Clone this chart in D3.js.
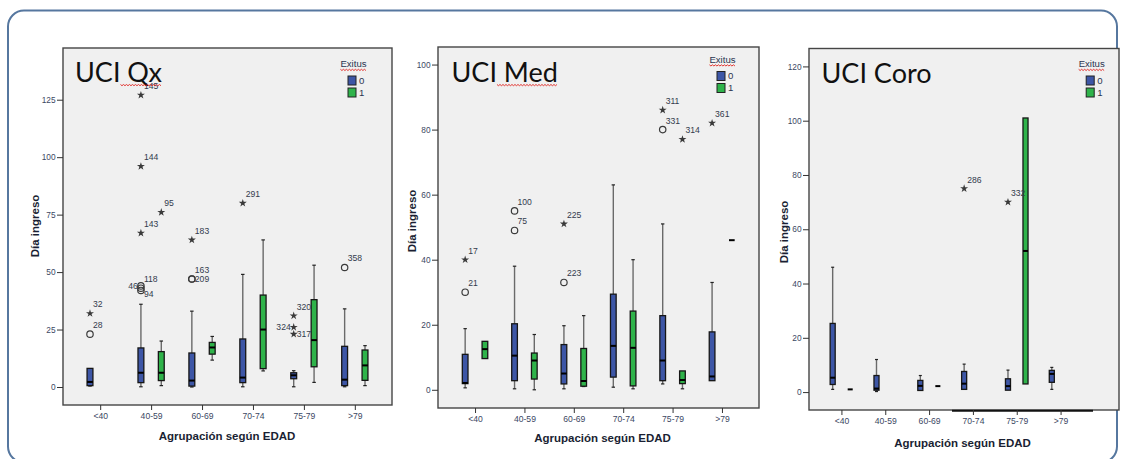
<!DOCTYPE html>
<html>
<head>
<meta charset="utf-8">
<script src="https://cdn.jsdelivr.net/npm/d3@7"></script>
<style>
  html, body { margin: 0; padding: 0; background: #ffffff; }
  svg { display: block; }
</style>
</head>
<body>
<script>
// Age groups on the x axis and the two Exitus groups
const categories = ["<40", "40-59", "60-69", "70-74", "75-79", ">79"];
const exitusGroups = ["0", "1"];

// Box summaries per age group: [whisker low, Q1, median, Q3, whisker high]; null = no cases
const qxExitus0 = [[0.4, 0.6, 2.2, 8.1, 8.1], [0.1, 1.9, 6.2, 17, 36], [0, 0.4, 2.8, 14.8, 33], [0.1, 1.9, 4.1, 20.9, 49], [0.1, 3.6, 5.1, 6.2, 7.1], [0.1, 0.6, 3.2, 17.7, 34]];
const qxExitus1 = [null, [0.6, 2.8, 6.2, 15.4, 20], [11.7, 14.3, 17.2, 19.4, 22], [7, 8, 25, 40, 64], [2, 8.8, 20.4, 38, 53], [0.6, 2.9, 9.4, 16.1, 18]];
const qxOutliers = [
  { cat: "<40", group: "0", value: 23, id: "28", mark: "circle" },
  { cat: "<40", group: "0", value: 32, id: "32", mark: "star" },
  { cat: "40-59", group: "0", value: 44, id: "46", mark: "circle", side: "left" },
  { cat: "40-59", group: "0", value: 43, id: "118", mark: "circle" },
  { cat: "40-59", group: "0", value: 42, id: "94", mark: "circle", side: "below" },
  { cat: "40-59", group: "0", value: 67, id: "143", mark: "star" },
  { cat: "40-59", group: "0", value: 96, id: "144", mark: "star" },
  { cat: "40-59", group: "0", value: 127, id: "145", mark: "star" },
  { cat: "40-59", group: "1", value: 76, id: "95", mark: "star" },
  { cat: "60-69", group: "0", value: 47, id: "163", mark: "circle" },
  { cat: "60-69", group: "0", value: 47, id: "209", mark: "circle", side: "right" },
  { cat: "60-69", group: "0", value: 64, id: "183", mark: "star" },
  { cat: "70-74", group: "0", value: 80, id: "291", mark: "star" },
  { cat: "75-79", group: "0", value: 31, id: "320", mark: "star" },
  { cat: "75-79", group: "0", value: 26, id: "324", mark: "star", side: "left" },
  { cat: "75-79", group: "0", value: 23, id: "317", mark: "star", side: "right" },
  { cat: ">79", group: "0", value: 52, id: "358", mark: "circle" }
];

const medExitus0 = [[0.6, 1.9, 2.1, 10.9, 18.8], [0.3, 2.8, 10.5, 20.3, 38], [0.3, 1.8, 5, 13.9, 19.7], [0.8, 3.9, 13.5, 29.4, 63], [1.8, 2.8, 9, 22.8, 51], [2.8, 2.8, 4.1, 17.8, 33]];
const medExitus1 = [[9.6, 9.6, 12.5, 14.9, 14.9], [0, 3.3, 9, 11.3, 17], [1, 1.1, 2.7, 12.7, 22.8], [0.3, 1.2, 12.9, 24.2, 40], [0.3, 1.9, 3, 5.8, 5.8], [46, 46, 46, 46, 46]];
const medOutliers = [
  { cat: "<40", group: "0", value: 30, id: "21", mark: "circle" },
  { cat: "<40", group: "0", value: 40, id: "17", mark: "star" },
  { cat: "40-59", group: "0", value: 49, id: "75", mark: "circle" },
  { cat: "40-59", group: "0", value: 55, id: "100", mark: "circle" },
  { cat: "60-69", group: "0", value: 33, id: "223", mark: "circle" },
  { cat: "60-69", group: "0", value: 51, id: "225", mark: "star" },
  { cat: "75-79", group: "0", value: 80, id: "331", mark: "circle" },
  { cat: "75-79", group: "0", value: 86, id: "311", mark: "star" },
  { cat: "75-79", group: "1", value: 77, id: "314", mark: "star" },
  { cat: ">79", group: "0", value: 82, id: "361", mark: "star" }
];

const coroExitus0 = [[1, 2.8, 5.3, 25.3, 46], [0.2, 0.7, 1.3, 6.1, 12], [0.6, 0.6, 2.3, 4.3, 6.1], [1, 1, 3.1, 7.6, 10.3], [0.7, 0.7, 2.2, 4.9, 8.1], [1, 3.6, 6.7, 8, 9.1]];
const coroExitus1 = [[1, 1, 1, 1, 1], null, [2.2, 2.2, 2.2, 2.2, 2.2], null, [3, 3, 52, 101, 101], null];
const coroOutliers = [
  { cat: "70-74", group: "0", value: 75, id: "286", mark: "star" },
  { cat: "75-79", group: "0", value: 70, id: "332", mark: "star" }
];

// y-axis tick values for each unit
const qxTicks = [0, 25, 50, 75, 100, 125];
const medTicks = [0, 20, 40, 60, 80, 100];
const coroTicks = [0, 20, 40, 60, 80, 100, 120];

const groupColor = { "0": "#3d56a6", "1": "#2fb34a" };
const sansFont = "'Liberation Sans', Arial, sans-serif";
const titleFont = "Lato, 'Open Sans', sans-serif";

const svg = d3.select("body").append("svg")
  .attr("width", 1122).attr("height", 459);

// slide frame
svg.append("rect")
  .attr("x", 8).attr("y", 10.5).attr("width", 1109).attr("height", 452)
  .attr("rx", 16).attr("ry", 16)
  .attr("fill", "#ffffff").attr("stroke", "#56779f").attr("stroke-width", 2);

// red wavy spell-check underline
function squiggle(g, x0, x1, yy) {
  const pts = [];
  for (let xx = x0, k = 0; xx <= x1; xx += 1.5, k++) pts.push([xx, yy + (k % 2 ? 1 : -0.2)]);
  g.append("path").attr("d", d3.line()(pts))
    .attr("fill", "none").attr("stroke", "#e0201c").attr("stroke-width", 0.9);
}

function drawPanel(cfg) {
  const g = svg.append("g");
  const [fx0, fy0, fx1, fy1] = cfg.frame;

  const x = d3.scalePoint().domain(categories).range(cfg.catRange).padding(cfg.pad);
  const step = x.step();
  const sub = d3.scalePoint().domain(exitusGroups).range([-step * 0.2, step * 0.2]);
  const bw = step * 0.115;
  const y = d3.scaleLinear().domain(cfg.yDomain).range([fy1, fy0]);

  // plot area
  g.append("rect")
    .attr("x", fx0).attr("y", fy0).attr("width", fx1 - fx0).attr("height", fy1 - fy0)
    .attr("fill", "#f0f0f0").attr("stroke", "#454545").attr("stroke-width", 1.4);
  if (cfg.bottomRule) {
    g.append("line")
      .attr("x1", cfg.bottomRule[0]).attr("x2", cfg.bottomRule[1])
      .attr("y1", fy1 + 0.8).attr("y2", fy1 + 0.8)
      .attr("stroke", "#111").attr("stroke-width", 2);
  }

  // y axis
  const yAxis = g.append("g").attr("transform", `translate(${fx0},0)`)
    .call(d3.axisLeft(y).tickValues(cfg.ticks).tickSize(6).tickPadding(1.5));
  yAxis.select(".domain").remove();
  yAxis.selectAll("line").attr("stroke", "#333");
  yAxis.selectAll("text").attr("font-family", sansFont).attr("font-size", 8.3).attr("fill", "#3b4763");

  // x axis
  const xAxis = g.append("g").attr("transform", `translate(0,${fy1})`)
    .call(d3.axisBottom(x).tickSize(5).tickPadding(2.5));
  xAxis.select(".domain").remove();
  xAxis.selectAll("line").attr("stroke", "#333");
  xAxis.selectAll("text").attr("font-family", sansFont).attr("font-size", 8.6).attr("fill", "#3b4763");

  // axis titles
  g.append("text")
    .attr("transform", `translate(${cfg.yTitle[0]},${cfg.yTitle[1]}) rotate(-90)`)
    .attr("text-anchor", "middle").attr("dy", "0.35em")
    .attr("font-family", sansFont).attr("font-weight", "bold").attr("font-size", 11.5)
    .attr("fill", "#1a1f33").text("Día ingreso");
  g.append("text")
    .attr("x", cfg.xTitle[0]).attr("y", cfg.xTitle[1])
    .attr("text-anchor", "middle")
    .attr("font-family", sansFont).attr("font-weight", "bold").attr("font-size", 11.5)
    .attr("fill", "#1a1f33").text("Agrupación según EDAD");

  // boxes
  const boxes = [];
  cfg.series.forEach((arr, gi) => {
    arr.forEach((s, ci) => {
      if (s) boxes.push({ cat: categories[ci], group: exitusGroups[gi], s });
    });
  });
  const bg = g.append("g");
  boxes.forEach(b => {
    const cx = x(b.cat) + sub(b.group);
    const [lo, q1, med, q3, hi] = b.s;
    // whiskers
    if (hi > q3) {
      bg.append("line").attr("x1", cx).attr("x2", cx).attr("y1", y(q3)).attr("y2", y(hi))
        .attr("stroke", "#6a6a6a").attr("stroke-width", 1.4);
      bg.append("line").attr("x1", cx - bw * 0.3).attr("x2", cx + bw * 0.3).attr("y1", y(hi)).attr("y2", y(hi))
        .attr("stroke", "#222").attr("stroke-width", 1.2);
    }
    if (lo < q1) {
      bg.append("line").attr("x1", cx).attr("x2", cx).attr("y1", y(lo)).attr("y2", y(q1))
        .attr("stroke", "#6a6a6a").attr("stroke-width", 1.4);
      bg.append("line").attr("x1", cx - bw * 0.3).attr("x2", cx + bw * 0.3).attr("y1", y(lo)).attr("y2", y(lo))
        .attr("stroke", "#222").attr("stroke-width", 1.2);
    }
    bg.append("rect")
      .attr("x", cx - bw / 2).attr("y", y(q3)).attr("width", bw).attr("height", Math.max(0, y(q1) - y(q3)))
      .attr("fill", groupColor[b.group]).attr("stroke", "#161616").attr("stroke-width", 1.3);
    bg.append("line").attr("x1", cx - bw / 2).attr("x2", cx + bw / 2).attr("y1", y(med)).attr("y2", y(med))
      .attr("stroke", "#000").attr("stroke-width", 2);
  });

  // outliers and their case labels
  const og = g.append("g");
  cfg.outliers.forEach(o => {
    const cx = x(o.cat) + sub(o.group);
    const cy = y(o.value);
    if (o.mark === "circle") {
      og.append("circle").attr("cx", cx).attr("cy", cy).attr("r", 3.2)
        .attr("fill", "none").attr("stroke", "#3a3a3a").attr("stroke-width", 1.2);
    } else {
      og.append("path").attr("transform", `translate(${cx},${cy})`)
        .attr("d", d3.symbol().type(d3.symbolStar).size(20)())
        .attr("fill", "#3a3a3a");
    }
    let tx = cx + 3, ty = cy - 6, anchor = "start";
    if (o.side === "left") { tx = cx - 3; ty = cy + 3; anchor = "end"; }
    else if (o.side === "right") { tx = cx + 3; ty = cy + 3; }
    else if (o.side === "below") { tx = cx + 3; ty = cy + 7; }
    og.append("text").attr("x", tx).attr("y", ty).attr("text-anchor", anchor)
      .attr("font-family", sansFont).attr("font-size", 8.6).attr("fill", "#333b4d")
      .text(o.id);
  });

  // panel title
  const t = g.append("text")
    .attr("x", cfg.titlePos[0]).attr("y", cfg.titlePos[1])
    .attr("font-family", titleFont).attr("font-size", 27).attr("fill", "#111")
    .text(cfg.title);
  if (cfg.squiggleWord) {
    const full = t.node().getComputedTextLength();
    const head = cfg.title.slice(0, cfg.title.length - cfg.squiggleWord.length);
    const tmp = g.append("text").attr("font-family", titleFont).attr("font-size", 27).text(head);
    const hw = tmp.node().getComputedTextLength();
    tmp.remove();
    squiggle(g, cfg.titlePos[0] + hw, cfg.titlePos[0] + full, cfg.titlePos[1] + 3);
  }

  // legend
  const [lx, ly] = cfg.legend;
  const lt = g.append("text").attr("x", lx).attr("y", ly).attr("text-anchor", "middle")
    .attr("font-family", sansFont).attr("font-size", 9.6).attr("fill", "#2b3550").text("Exitus");
  const lw = lt.node().getComputedTextLength();
  squiggle(g, lx - lw / 2, lx + lw / 2, ly + 2.5);
  exitusGroups.forEach((k, i) => {
    const sy = ly + 9 + i * 12;
    g.append("rect").attr("x", lx - 5.5).attr("y", sy).attr("width", 8).attr("height", 9)
      .attr("fill", groupColor[k]).attr("stroke", "#222").attr("stroke-width", 1);
    g.append("text").attr("x", lx + 5.5).attr("y", sy + 4.5).attr("dy", "0.35em")
      .attr("font-family", sansFont).attr("font-size", 9.6).attr("fill", "#2b3550").text(k);
  });
}

drawPanel({
  title: "UCI Qx", squiggleWord: "Qx", titlePos: [75, 81.7],
  frame: [63, 48, 392, 405], catRange: [63, 392], pad: 0.73,
  yDomain: [-7.83, 147.5], ticks: qxTicks,
  series: [qxExitus0, qxExitus1], outliers: qxOutliers,
  yTitle: [34.5, 226], xTitle: [227, 440], legend: [353.5, 67]
});

drawPanel({
  title: "UCI Med", squiggleWord: "Med", titlePos: [451.5, 81.7],
  frame: [438, 47, 759, 408], catRange: [438, 759], pad: 0.75,
  yDomain: [-5.6, 105.4], ticks: medTicks,
  series: [medExitus0, medExitus1], outliers: medOutliers,
  yTitle: [411.7, 221], xTitle: [602.5, 441.5], legend: [722.5, 62.5]
});

drawPanel({
  title: "UCI Coro", squiggleWord: null, titlePos: [821.5, 82.7],
  frame: [809, 48.5, 1119, 410], catRange: [809, 1093], pad: 0.74,
  yDomain: [-6.6, 126.6], ticks: coroTicks, bottomRule: [952, 1093],
  series: [coroExitus0, coroExitus1], outliers: coroOutliers,
  yTitle: [784.3, 232], xTitle: [962.5, 447], legend: [1091.7, 67]
});
</script>
</body>
</html>
